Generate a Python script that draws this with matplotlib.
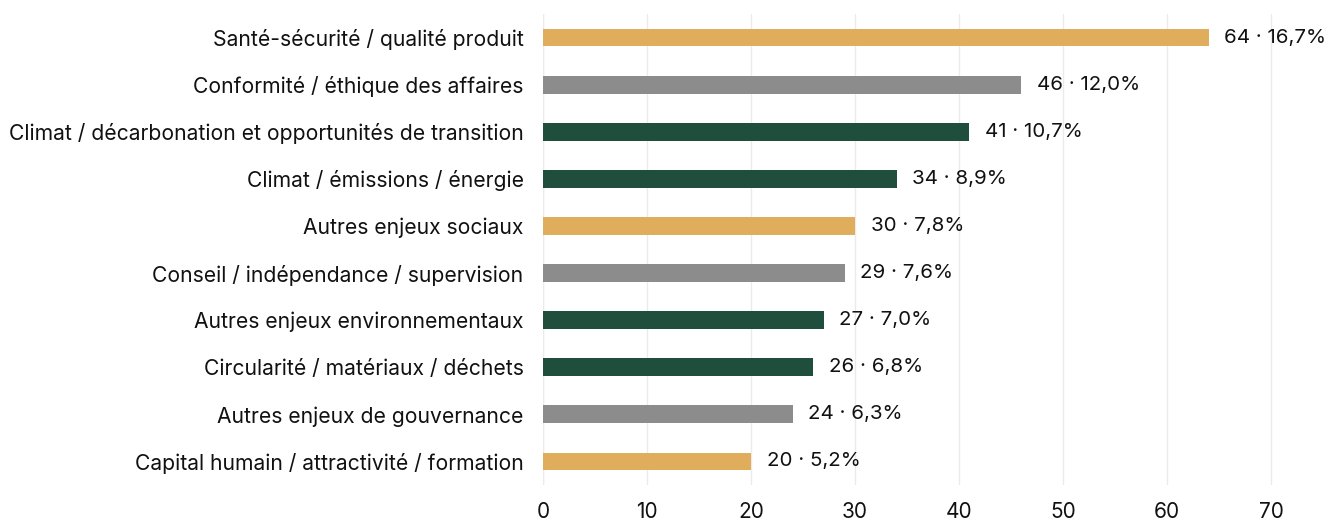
import matplotlib.pyplot as plt

plt.rcParams['font.family'] = ['Inter', 'DejaVu Sans']

# data (top to bottom)
labels = ['Santé-sécurité / qualité produit',
          'Conformité / éthique des affaires',
          'Climat / décarbonation et opportunités de transition',
          'Climat / émissions / énergie',
          'Autres enjeux sociaux',
          'Conseil / indépendance / supervision',
          'Autres enjeux environnementaux',
          'Circularité / matériaux / déchets',
          'Autres enjeux de gouvernance',
          'Capital humain / attractivité / formation']
counts = [64, 46, 41, 34, 30, 29, 27, 26, 24, 20]
shares = ['16,7%', '12,0%', '10,7%', '8,9%', '7,8%', '7,6%', '7,0%', '6,8%', '6,3%', '5,2%']
pillar = ['S', 'G', 'E', 'E', 'S', 'G', 'E', 'E', 'G', 'S']

colors = {'S': '#E0AD5C', 'G': '#8C8C8C', 'E': '#1F4E3D'}

fig = plt.figure(figsize=(13.27, 5.2), dpi=100)
ax = fig.add_axes([543 / 1327, 35 / 520, (1323 - 543) / 1327, (484.5 - 13.5) / 520])

ypos = list(range(len(labels)))
ax.barh(ypos, counts, height=0.38, color=[colors[p] for p in pillar], zorder=2)
for y, c, s in zip(ypos, counts, shares):
    ax.text(c + 1.5, y, f'{c} · {s}', va='center', ha='left', fontsize=14.8, color='#111111')

ax.set_xlim(0, 75)
ax.set_ylim(9.5, -0.5)
ax.set_xticks(range(0, 80, 10))
ax.set_yticks(ypos)
ax.set_yticklabels(labels, fontsize=15.2, color='#111111')
ax.tick_params(axis='x', labelsize=15, length=0, pad=12, colors='#111111')
ax.tick_params(axis='y', length=0, pad=14)
ax.grid(axis='x', color='#EBEBEB', linewidth=1, zorder=0)
for sp in ax.spines.values():
    sp.set_visible(False)
ax.axvline(0, color='#D0D0D0', linewidth=1.5, zorder=1)

fig.savefig('out.png', dpi=100)
